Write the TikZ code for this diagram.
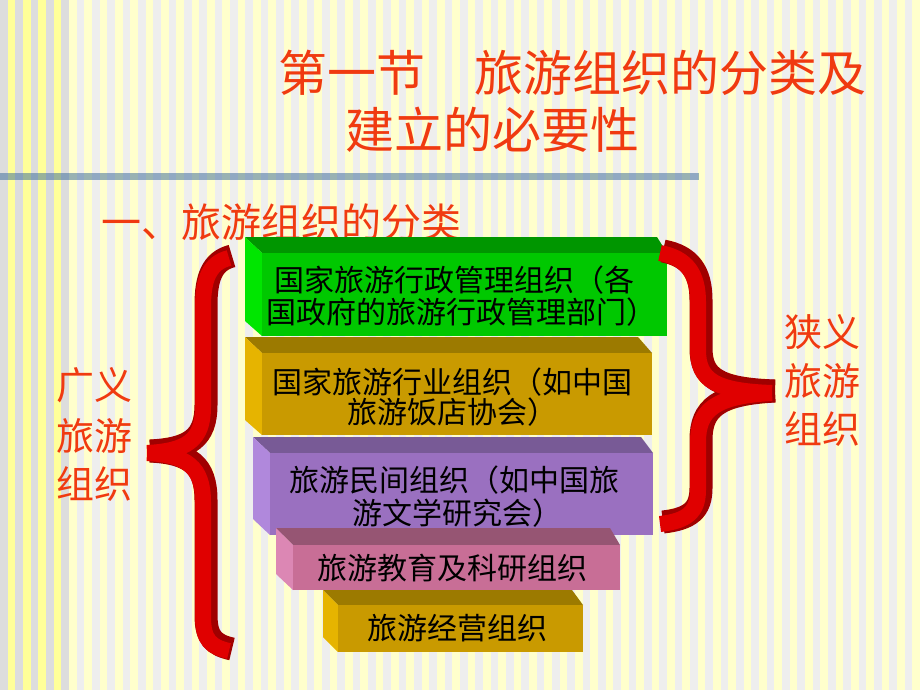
\documentclass[tikz,border=0pt]{standalone}
\usepackage{fontspec}
\newfontfamily\cjk{Noto Sans CJK SC}
\definecolor{bgcream}{HTML}{FFFFCC}
\definecolor{bggray}{HTML}{EEEEEE}
\definecolor{bgyellow}{HTML}{FFFF99}
\definecolor{bgdgray}{HTML}{DDDDDD}
\definecolor{rulecol}{HTML}{336699}
\definecolor{titlered}{HTML}{F03A10}
\definecolor{gfront}{HTML}{00C800}
\definecolor{gtop}{HTML}{009600}
\definecolor{gleft}{HTML}{00E600}
\definecolor{yfront}{HTML}{C99A00}
\definecolor{ytop}{HTML}{9C7A00}
\definecolor{yleft}{HTML}{E6B400}
\definecolor{pfront}{HTML}{9A70C0}
\definecolor{ptop}{HTML}{785A96}
\definecolor{pleft}{HTML}{B088DC}
\definecolor{kfront}{HTML}{C86E96}
\definecolor{ktop}{HTML}{965573}
\definecolor{kleft}{HTML}{DC87B4}
\definecolor{bright}{HTML}{E00000}
\definecolor{bdark}{HTML}{A00000}
\tikzset{
  titletxt/.style={anchor=base west, inner sep=0pt, text=titlered, font=\cjk\fontsize{49}{57}\selectfont},
  subtxt/.style={anchor=base west, inner sep=0pt, text=titlered, font=\cjk\fontsize{40}{48}\selectfont},
  sidetxt/.style={anchor=base west, inner sep=0pt, text=titlered, font=\cjk\fontsize{38}{46}\selectfont},
  boxtxt/.style={anchor=base west, inner sep=0pt, text=black, font=\cjk\fontsize{30}{34}\selectfont},
  bracedark/.style={draw=bdark, line width=23pt, line cap=butt},
  bracelight/.style={draw=bright, line width=16pt, line cap=butt, xshift=-3pt, yshift=-2pt},
}
\begin{document}
\begin{tikzpicture}[x=1pt,y=-1pt]
\useasboundingbox (0,0) rectangle (920,690);
% background stripes
\fill[bgcream] (0,0) rectangle (920,690);
\foreach \i in {0,...,59} \fill[bggray] ({\i*15.3333},0) rectangle ({\i*15.3333+7.6667},690);
\fill[bgyellow] (0,0) rectangle (69,690);
\foreach \i in {0,...,4} \fill[bgdgray] ({\i*15.3333},0) rectangle ({\i*15.3333+7.6667},690);
% rule
\fill[rulecol, opacity=0.5] (0,173) rectangle (699,180);
% title
\node[titletxt] (t1) at (278,91.6) {第一节　旅游组织的分类及};
\node[titletxt] (t2) at (345,148.6) {建立的必要性};
\node[subtxt] (sub) at (101,237) {一、旅游组织的分类};
% box 1 green
\fill[gtop] (245,237) -- (657,237) -- (667,253) -- (262,253) -- cycle;
\fill[gleft] (245,237) -- (262,253) -- (262,336) -- (245,321) -- cycle;
\fill[gfront] (262,253) rectangle (667,336);
% box 2 gold
\fill[ytop] (245,337) -- (638,337) -- (652,353) -- (262,353) -- cycle;
\fill[yleft] (245,337) -- (262,353) -- (262,435) -- (245,420) -- cycle;
\fill[yfront] (262,353) rectangle (652,435);
% box 3 purple
\fill[ptop] (253,437) -- (641,437) -- (653,453) -- (270,453) -- cycle;
\fill[pleft] (253,437) -- (270,453) -- (270,535) -- (253,519) -- cycle;
\fill[pfront] (270,453) rectangle (653,535);
% box 4 pink
\fill[ktop] (276,528) -- (610,528) -- (620,545) -- (293,545) -- cycle;
\fill[kleft] (276,528) -- (293,545) -- (293,590) -- (276,574) -- cycle;
\fill[kfront] (293,545) rectangle (620,590);
% box 5 gold
\fill[ytop] (323,590) -- (572,590) -- (583,605) -- (338,605) -- cycle;
\fill[yleft] (323,590) -- (338,605) -- (338,652) -- (323,637) -- cycle;
\fill[yfront] (338,605) rectangle (583,652);
% box texts
\node[boxtxt] (b1a) at (274,291.4) {国家旅游行政管理组织（各};
\node[boxtxt] (b1b) at (266,323.4) {国政府的旅游行政管理部门）};
\node[boxtxt] (b2a) at (272,393.4) {国家旅游行业组织（如中国};
\node[boxtxt] (b2b) at (347,423.4) {旅游饭店协会）};
\node[boxtxt] (b3a) at (289,491.4) {旅游民间组织（如中国旅};
\node[boxtxt] (b3b) at (352,524.4) {游文学研究会）};
\node[boxtxt] (b4) at (317,579.4) {旅游教育及科研组织};
\node[boxtxt] (b5) at (367,639.4) {旅游经营组织};
% left brace
\draw[bracedark] (232,256) .. controls (212,261) and (206,278) .. (206,305) -- (206,405) .. controls (206,438) and (190,449) .. (150,451);
\draw[bracedark] (150,451) .. controls (190,453) and (206,465) .. (206,500) -- (206,615) .. controls (206,638) and (214,645) .. (232,649);
\draw[bracelight] (232,256) .. controls (212,261) and (206,278) .. (206,305) -- (206,405) .. controls (206,438) and (190,449) .. (150,451);
\draw[bracelight] (150,451) .. controls (190,453) and (206,465) .. (206,500) -- (206,615) .. controls (206,638) and (214,645) .. (232,649);
% right brace
\draw[bracedark] (663,251) .. controls (690,256) and (701,272) .. (701,300) -- (701,348) .. controls (701,378) and (718,389) .. (775,391);
\draw[bracedark] (775,391) .. controls (718,394) and (701,408) .. (701,440) -- (701,488) .. controls (701,510) and (690,519) .. (663,522);
\draw[bracelight] (663,251) .. controls (690,256) and (701,272) .. (701,300) -- (701,348) .. controls (701,378) and (718,389) .. (775,391);
\draw[bracelight] (775,391) .. controls (718,394) and (701,408) .. (701,440) -- (701,488) .. controls (701,510) and (690,519) .. (663,522);
% side labels
\node[sidetxt] (l1) at (56,399.4) {广义};
\node[sidetxt] (l2) at (56,450.4) {旅游};
\node[sidetxt] (l3) at (56,498.4) {组织};
\node[sidetxt] (r1) at (784,346.4) {狭义};
\node[sidetxt] (r2) at (784,395.4) {旅游};
\node[sidetxt] (r3) at (784,443.4) {组织};
\end{tikzpicture}
\end{document}
